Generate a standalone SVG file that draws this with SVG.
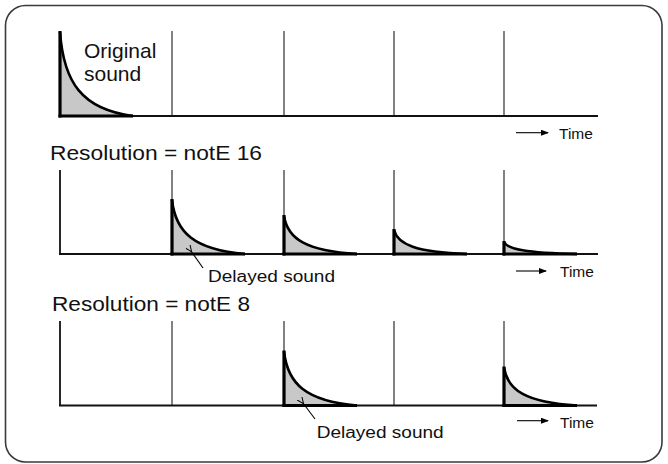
<svg xmlns="http://www.w3.org/2000/svg" width="668" height="464" viewBox="0 0 668 464">
<style>
.frame{fill:#fff;stroke:#3a3a3a;stroke-width:1.6}
.grid{stroke:#1a1a1a;stroke-width:1.1;fill:none}
.axis{stroke:#111;stroke-width:1.8;fill:none}
.fill{fill:#c8c8c8;stroke:none}
.curve{fill:none;stroke:#000;stroke-width:2.6}
.thick{stroke:#000;stroke-width:3.2;fill:none}
.lbl{font-family:"Liberation Sans",Arial,sans-serif;fill:#111}
.big{font-size:21px}
.res{font-size:20px}
.small{font-size:16px}
.time{font-size:15.5px}
.arr{stroke:#000;stroke-width:1.1;fill:none}
</style>
<defs>
<marker id="head" markerWidth="8" markerHeight="6" refX="7" refY="3" orient="auto" markerUnits="userSpaceOnUse">
<path d="M0,0 L8,3 L0,6 Z" fill="#000"/>
</marker>
<marker id="phead" markerWidth="7" markerHeight="6" refX="1" refY="3" orient="auto" markerUnits="userSpaceOnUse">
<path d="M7,0 L0,3 L7,6" fill="none" stroke="#000" stroke-width="1"/>
</marker>
</defs>
<rect class="frame" x="5.5" y="5.5" width="656.5" height="456.5" rx="20" ry="20"/>

<g id="panel-original">
<line class="grid" x1="172" y1="31" x2="172" y2="116"/>
<line class="grid" x1="284" y1="31" x2="284" y2="116"/>
<line class="grid" x1="394" y1="31" x2="394" y2="116"/>
<line class="grid" x1="504" y1="31" x2="504" y2="116"/>
<line class="axis" x1="60" y1="116" x2="598" y2="116"/>
<path class="fill" d="M60,32 C63.65,82.4 81.9,109.3 133,116 L60,116 Z"/>
<path class="curve" d="M60,32 C63.65,82.4 81.9,109.3 133,116"/>
<line class="thick" x1="60" y1="31" x2="60" y2="117.5"/>
<line class="thick" x1="58.5" y1="116" x2="133" y2="116"/>
<text class="lbl big" x="84" y="58">Original</text>
<text class="lbl big" x="84" y="81">sound</text>
<line class="arr" x1="516" y1="132.7" x2="548" y2="132.7" marker-end="url(#head)"/>
<text class="lbl time" x="559" y="138.7">Time</text>
</g>

<g id="panel-note16">
<text class="lbl res" x="50" y="160" textLength="212" lengthAdjust="spacingAndGlyphs">Resolution = notE 16</text>
<line class="axis" x1="60" y1="170" x2="60" y2="254"/>
<line class="grid" x1="172" y1="170" x2="172" y2="254"/>
<line class="grid" x1="284" y1="170" x2="284" y2="254"/>
<line class="grid" x1="394" y1="170" x2="394" y2="254"/>
<line class="grid" x1="504" y1="170" x2="504" y2="254"/>
<line class="axis" x1="59" y1="254" x2="598" y2="254"/>
<path class="fill" d="M172,200 C175.65,232.4 193.9,249.7 245,254 L172,254 Z"/>
<path class="curve" d="M172,200 C175.65,232.4 193.9,249.7 245,254"/>
<line class="thick" x1="172" y1="199" x2="172" y2="255.5"/>
<line class="thick" x1="170.5" y1="254" x2="245" y2="254"/>
<path class="fill" d="M284,216 C287.65,238.8 305.9,251 357,254 L284,254 Z"/>
<path class="curve" d="M284,216 C287.65,238.8 305.9,251 357,254"/>
<line class="thick" x1="284" y1="215" x2="284" y2="255.5"/>
<line class="thick" x1="282.5" y1="254" x2="357" y2="254"/>
<path class="fill" d="M394,230 C397.65,244.4 415.9,252.1 467,254 L394,254 Z"/>
<path class="curve" d="M394,230 C397.65,244.4 415.9,252.1 467,254"/>
<line class="thick" x1="394" y1="229" x2="394" y2="255.5"/>
<line class="thick" x1="392.5" y1="254" x2="467" y2="254"/>
<path class="fill" d="M504,242 C507.65,249.2 525.9,253 577,254 L504,254 Z"/>
<path class="curve" d="M504,242 C507.65,249.2 525.9,253 577,254"/>
<line class="thick" x1="504" y1="241" x2="504" y2="255.5"/>
<line class="thick" x1="502.5" y1="254" x2="577" y2="254"/>
<text class="lbl small" x="208" y="281.7" textLength="127" lengthAdjust="spacingAndGlyphs">Delayed sound</text>
<line class="arr" x1="516" y1="271" x2="546" y2="271" marker-end="url(#head)"/>
<text class="lbl time" x="560" y="276.7">Time</text>
</g>

<g id="panel-note8">
<text class="lbl res" x="52" y="310.5" textLength="198" lengthAdjust="spacingAndGlyphs">Resolution = notE 8</text>
<line class="axis" x1="60" y1="321" x2="60" y2="405.5"/>
<line class="grid" x1="172" y1="321" x2="172" y2="405.5"/>
<line class="grid" x1="284" y1="321" x2="284" y2="405.5"/>
<line class="grid" x1="394" y1="321" x2="394" y2="405.5"/>
<line class="grid" x1="504" y1="321" x2="504" y2="405.5"/>
<line class="axis" x1="59" y1="405.5" x2="597" y2="405.5"/>
<path class="fill" d="M284,351.5 C287.65,383.9 305.9,401.2 357,405.5 L284,405.5 Z"/>
<path class="curve" d="M284,351.5 C287.65,383.9 305.9,401.2 357,405.5"/>
<line class="thick" x1="284" y1="350.5" x2="284" y2="407"/>
<line class="thick" x1="282.5" y1="405.5" x2="357" y2="405.5"/>
<path class="fill" d="M504,367.5 C507.65,390.3 525.9,402.5 577,405.5 L504,405.5 Z"/>
<path class="curve" d="M504,367.5 C507.65,390.3 525.9,402.5 577,405.5"/>
<line class="thick" x1="504" y1="366.5" x2="504" y2="407"/>
<line class="thick" x1="502.5" y1="405.5" x2="577" y2="405.5"/>
<text class="lbl small" x="316.7" y="438" textLength="127" lengthAdjust="spacingAndGlyphs">Delayed sound</text>
<line class="arr" x1="517" y1="420.7" x2="548" y2="420.7" marker-end="url(#head)"/>
<text class="lbl time" x="560" y="428">Time</text>
</g>

<g id="connectors">
<line class="arr" x1="203" y1="268" x2="191" y2="251" marker-end="url(#phead)"/>
<line class="arr" x1="315" y1="419" x2="303" y2="403" marker-end="url(#phead)"/>
</g>
</svg>
